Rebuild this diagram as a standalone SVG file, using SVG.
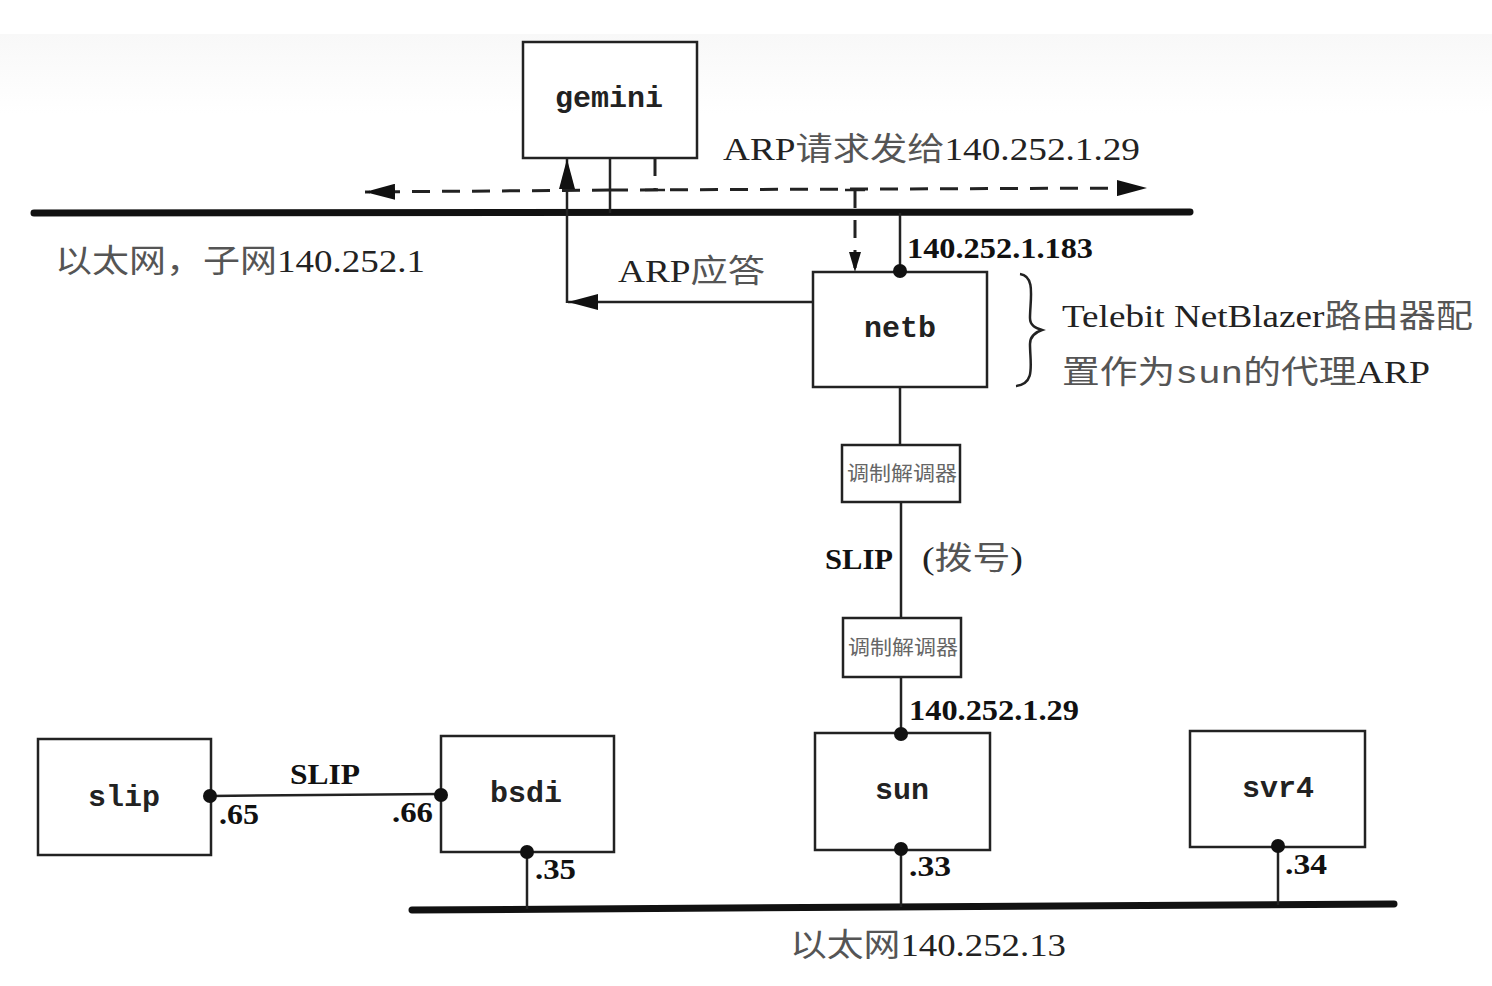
<svg xmlns="http://www.w3.org/2000/svg" width="1492" height="986" viewBox="0 0 1492 986">
<defs>
<marker id="ahb" viewBox="0 0 10 10" refX="10" refY="5" markerWidth="30" markerHeight="16" markerUnits="userSpaceOnUse" orient="auto" preserveAspectRatio="none">
<path d="M0,0 L10,5 L0,10 z" fill="#111"/>
</marker>
<marker id="ahs" viewBox="0 0 10 10" refX="10" refY="5" markerWidth="20" markerHeight="12" markerUnits="userSpaceOnUse" orient="auto" preserveAspectRatio="none">
<path d="M0,0 L10,5 L0,10 z" fill="#111"/>
</marker>
<linearGradient id="band" x1="0" y1="0" x2="0" y2="1">
<stop offset="0" stop-color="#f8f8f8"/>
<stop offset="1" stop-color="#ffffff"/>
</linearGradient>
</defs>
<style>
.box{fill:#fff;stroke:#222;stroke-width:2.5}
.host{font-family:"Liberation Mono","DejaVu Sans Mono",monospace;font-weight:bold;font-size:30px;fill:#222;text-anchor:middle}
.lbl{font-family:"Liberation Serif","Noto Sans CJK SC",serif;font-size:32px;fill:#222}
.num{font-family:"Liberation Serif","Noto Sans CJK SC",serif;font-size:30px;fill:#111;font-weight:bold}
.cjk{fill:#555;font-family:"Noto Sans CJK SC",sans-serif;font-weight:normal}
.modem{font-family:"Noto Sans CJK SC",sans-serif;font-size:20px;fill:#666}
.ln{stroke:#222;stroke-width:2.5;fill:none}
.net{stroke:#111;stroke-width:7;stroke-linecap:round}
.dash{stroke:#222;stroke-width:3;stroke-dasharray:18 12;fill:none}
.dot{fill:#111}
</style>
<rect width="1492" height="986" fill="#fff"/>
<rect x="0" y="34" width="1492" height="80" fill="url(#band)"/>

<g id="connectors">
<line class="net" x1="34" y1="213" x2="1190" y2="212"/>
<line class="net" x1="412" y1="910" x2="1394" y2="904"/>
<line class="dash" x1="610" y1="190" x2="365" y2="192" marker-end="url(#ahb)"/>
<line class="dash" x1="610" y1="190" x2="1147" y2="188" marker-end="url(#ahb)"/>
<line class="ln" x1="610" y1="158" x2="610" y2="213"/>
<line class="dash" x1="655" y1="158" x2="655" y2="190" stroke-dasharray="10 6"/>
<line class="ln" x1="645" y1="190" x2="665" y2="190"/>
<line class="ln" x1="845" y1="190" x2="865" y2="190"/>
<line class="dash" x1="855" y1="190" x2="855" y2="272" stroke-dasharray="10 6" marker-end="url(#ahs)"/>
<line class="ln" x1="900" y1="213" x2="900" y2="272"/>
<line class="ln" x1="813" y1="302" x2="568" y2="302" marker-end="url(#ahb)"/>
<line class="ln" x1="567" y1="303" x2="567" y2="159" marker-end="url(#ahb)"/>
<line class="ln" x1="900" y1="387" x2="900" y2="445"/>
<line class="ln" x1="901" y1="502" x2="901" y2="618"/>
<line class="ln" x1="901" y1="677" x2="901" y2="733"/>
<line class="ln" x1="901" y1="849" x2="901" y2="907"/>
<line class="ln" x1="1278" y1="846" x2="1278" y2="905"/>
<line class="ln" x1="527" y1="852" x2="527" y2="909"/>
<line class="ln" x1="210" y1="796" x2="441" y2="794"/>
<path class="ln" d="M1020,274 C1036,276 1030,300 1030,318 C1030,326 1036,328 1042,330 C1036,332 1030,336 1030,344 C1030,364 1036,384 1016,386"/>
</g>

<g id="gemini">
<rect class="box" x="523" y="42" width="174" height="116"/>
<text class="host" x="609" y="107">gemini</text>
</g>
<g id="netb">
<rect class="box" x="813" y="272" width="174" height="115"/>
<text class="host" x="900" y="337">netb</text>
<circle class="dot" cx="900" cy="271" r="7"/>
</g>
<g id="modem1">
<rect class="box" x="842" y="445" width="118" height="57"/>
<text class="modem" x="847" y="481" textLength="110" lengthAdjust="spacingAndGlyphs">调制解调器</text>
</g>
<g id="modem2">
<rect class="box" x="843" y="618" width="118" height="59"/>
<text class="modem" x="848" y="655" textLength="110" lengthAdjust="spacingAndGlyphs">调制解调器</text>
</g>
<g id="sun">
<rect class="box" x="815" y="733" width="175" height="117"/>
<text class="host" x="902" y="799">sun</text>
<circle class="dot" cx="901" cy="734" r="7"/>
<circle class="dot" cx="901" cy="849" r="7"/>
</g>
<g id="svr4">
<rect class="box" x="1190" y="731" width="175" height="116"/>
<text class="host" x="1278" y="797">svr4</text>
<circle class="dot" cx="1278" cy="846" r="7"/>
</g>
<g id="slip">
<rect class="box" x="38" y="739" width="173" height="116"/>
<text class="host" x="124" y="806">slip</text>
<circle class="dot" cx="210" cy="796" r="7"/>
</g>
<g id="bsdi">
<rect class="box" x="441" y="736" width="173" height="116"/>
<text class="host" x="526" y="802">bsdi</text>
<circle class="dot" cx="441" cy="795" r="7"/>
<circle class="dot" cx="527" cy="852" r="7"/>
</g>

<g id="labels">
<text class="lbl" x="723" y="160" textLength="417" lengthAdjust="spacingAndGlyphs">ARP<tspan class="cjk">请求发给</tspan>140.252.1.29</text>
<text class="lbl" x="55" y="272" fill="#444" textLength="370" lengthAdjust="spacingAndGlyphs"><tspan class="cjk">以太网，子网</tspan>140.252.1</text>
<text class="lbl" x="618" y="282" textLength="147" lengthAdjust="spacingAndGlyphs">ARP<tspan class="cjk">应答</tspan></text>
<text class="num" x="907" y="258" textLength="186" lengthAdjust="spacingAndGlyphs">140.252.1.183</text>
<text class="lbl" x="1062" y="327" textLength="411" lengthAdjust="spacingAndGlyphs">Telebit NetBlazer<tspan class="cjk">路由器配</tspan></text>
<text class="lbl" x="1062" y="383" textLength="368" lengthAdjust="spacingAndGlyphs"><tspan class="cjk">置作为</tspan><tspan font-family="Liberation Mono,monospace" fill="#555">sun</tspan><tspan class="cjk">的代理</tspan>ARP</text>
<text class="num" x="825" y="569" textLength="68" lengthAdjust="spacingAndGlyphs">SLIP</text>
<text class="lbl" x="922" y="569" fill="#444" textLength="101" lengthAdjust="spacingAndGlyphs">(<tspan class="cjk">拨号</tspan>)</text>
<text class="num" x="909" y="720" textLength="170" lengthAdjust="spacingAndGlyphs">140.252.1.29</text>
<text class="num" x="290" y="784" textLength="70" lengthAdjust="spacingAndGlyphs">SLIP</text>
<text class="num" x="219" y="824" textLength="40" lengthAdjust="spacingAndGlyphs">.65</text>
<text class="num" x="392" y="822" textLength="41" lengthAdjust="spacingAndGlyphs">.66</text>
<text class="num" x="535" y="879" textLength="41" lengthAdjust="spacingAndGlyphs">.35</text>
<text class="num" x="909" y="876" textLength="42" lengthAdjust="spacingAndGlyphs">.33</text>
<text class="num" x="1285" y="874" textLength="42" lengthAdjust="spacingAndGlyphs">.34</text>
<text class="lbl" x="790" y="956" textLength="276" lengthAdjust="spacingAndGlyphs"><tspan class="cjk">以太网</tspan>140.252.13</text>
</g>
</svg>
